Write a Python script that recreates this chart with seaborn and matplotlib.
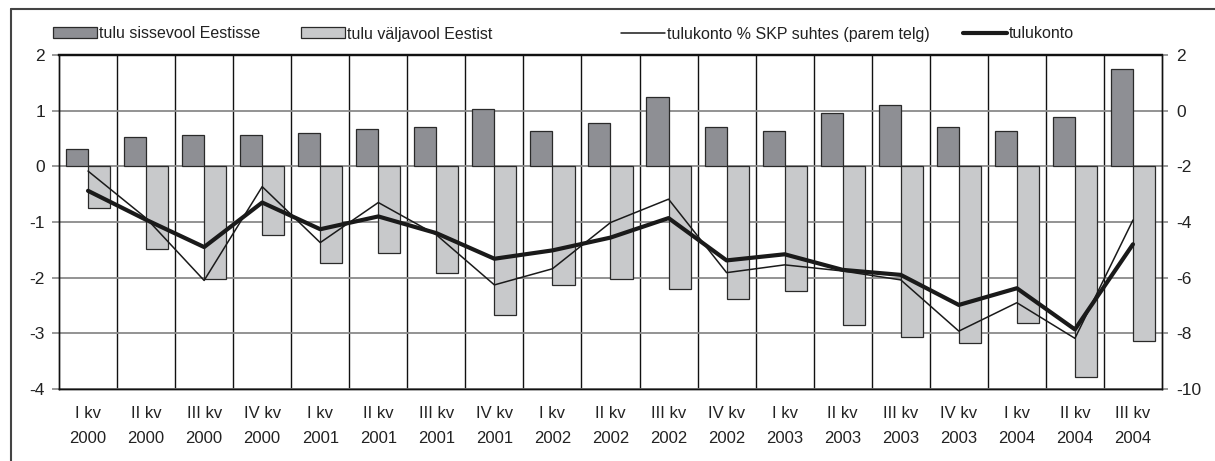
import numpy as np
import pandas as pd
import matplotlib
matplotlib.use("Agg")
import matplotlib.pyplot as plt
from matplotlib.lines import Line2D
import seaborn as sns

# --- data ---
quarters = ["I kv", "II kv", "III kv", "IV kv"] * 4 + ["I kv", "II kv", "III kv"]
years = ["2000"] * 4 + ["2001"] * 4 + ["2002"] * 4 + ["2003"] * 4 + ["2004"] * 3
labels = [f"{q}\n{y}" for q, y in zip(quarters, years)]

inflow = [0.32, 0.53, 0.56, 0.56, 0.60, 0.67, 0.71, 1.03, 0.64, 0.78,
          1.25, 0.71, 0.64, 0.96, 1.11, 0.71, 0.64, 0.89, 1.75]
outflow = [-0.75, -1.48, -2.02, -1.23, -1.74, -1.55, -1.92, -2.67, -2.13, -2.02,
           -2.20, -2.38, -2.24, -2.85, -3.07, -3.17, -2.81, -3.78, -3.14]
account = [-0.44, -0.96, -1.45, -0.65, -1.13, -0.90, -1.20, -1.66, -1.51, -1.28,
           -0.93, -1.69, -1.58, -1.86, -1.95, -2.49, -2.19, -2.93, -1.40]
account_gdp = [-2.17, -3.86, -6.10, -2.73, -4.74, -3.30, -4.46, -6.26, -5.68, -4.02,
               -3.18, -5.82, -5.54, -5.76, -6.08, -7.92, -6.90, -8.18, -3.93]

lbl_in = "tulu sissevool Eestisse"
lbl_out = "tulu väljavool Eestist"
lbl_gdp = "tulukonto % SKP suhtes (parem telg)"
lbl_acc = "tulukonto"

sns.set_style("white")
plt.rcParams["font.family"] = ["Liberation Sans", "DejaVu Sans"]
plt.rcParams["axes.unicode_minus"] = False

bars = pd.DataFrame({
    "period": labels * 2,
    "value": inflow + outflow,
    "series": [lbl_in] * len(labels) + [lbl_out] * len(labels),
})
xpos = np.arange(len(labels))

fig = plt.figure(figsize=(12.15, 4.61), dpi=100)
ax = fig.add_axes([59 / 1215, 1 - 389 / 461, (1162 - 59) / 1215, (389 - 55) / 461])

sns.barplot(data=bars, x="period", y="value", hue="series", ax=ax,
            palette=["#8e8f94", "#c8c9cb"], width=0.76, edgecolor="#2a2a2a",
            linewidth=0.9, saturation=1, zorder=2)
sns.lineplot(x=xpos, y=account, ax=ax, color="#1a1a1a", linewidth=3.0,
             label=lbl_acc, zorder=4)

ax2 = ax.twinx()
sns.lineplot(x=xpos, y=account_gdp, ax=ax2, color="#1a1a1a", linewidth=1.1,
             label=lbl_gdp, zorder=4)

h1, _ = ax.get_legend_handles_labels()
h2, _ = ax2.get_legend_handles_labels()
ax.get_legend().remove()
ax2.get_legend().remove()

# axes ranges and ticks
ax.set_xlim(-0.5, len(labels) - 0.5)
ax.set_ylim(-4, 2)
ax.set_yticks(range(-4, 3))
ax2.set_ylim(-10, 2)
ax2.set_yticks(range(-10, 3, 2))
ax.set_xlabel("")
ax.set_ylabel("")
ax2.set_ylabel("")

ax.set_xticks(xpos)
ax.set_xticklabels(labels)
for t in ax.get_xticklabels():
    t.set_linespacing(1.9)
ax.tick_params(axis="x", length=0, pad=12, labelsize=12, colors="#222222")
ax.tick_params(axis="y", length=5, width=1.2, color="#888888", pad=5,
               labelsize=12.5, labelcolor="#222222", left=True)
ax2.tick_params(axis="y", length=4, width=1.2, color="#888888", pad=6,
                labelsize=12.5, labelcolor="#222222", right=True)

# grid: gray horizontals, black category separators
ax.set_xticks(np.arange(0.5, len(labels) - 1, 1), minor=True)
ax.tick_params(axis="x", which="minor", length=0)
ax.grid(axis="y", color="#8a8a8a", linewidth=1.3, zorder=0)
ax.grid(axis="x", which="minor", color="#111111", linewidth=1.0, zorder=0)
ax.set_axisbelow(True)

for a in (ax, ax2):
    for s in a.spines.values():
        s.set_color("#111111")
        s.set_linewidth(1.0)
    a.spines["top"].set_linewidth(1.6)

# legends laid out like the original row above the plot
font_leg = 11.5
legend_specs = [(h1[0], lbl_in, 53), (h1[1], lbl_out, 301),
                (h2[0], lbl_gdp, 621), (h1[2], lbl_acc, 963)]
for handle, text, xpx in legend_specs:
    leg = fig.legend([handle], [text], loc="center left",
                     bbox_to_anchor=(xpx / 1215, 1 - 34 / 461), frameon=False,
                     fontsize=font_leg, handlelength=2.75, handleheight=0.7,
                     handletextpad=0.1, borderpad=0, borderaxespad=0)
    for t in leg.get_texts():
        t.set_color("#222222")

# outer frame (top and left edges)
fig.add_artist(Line2D([11 / 1215, 1], [1 - 9 / 461] * 2, transform=fig.transFigure,
                      color="#444444", linewidth=1.5))
fig.add_artist(Line2D([11 / 1215] * 2, [0, 1 - 9 / 461], transform=fig.transFigure,
                      color="#444444", linewidth=1.5))

fig.savefig("out.png", dpi=100)
